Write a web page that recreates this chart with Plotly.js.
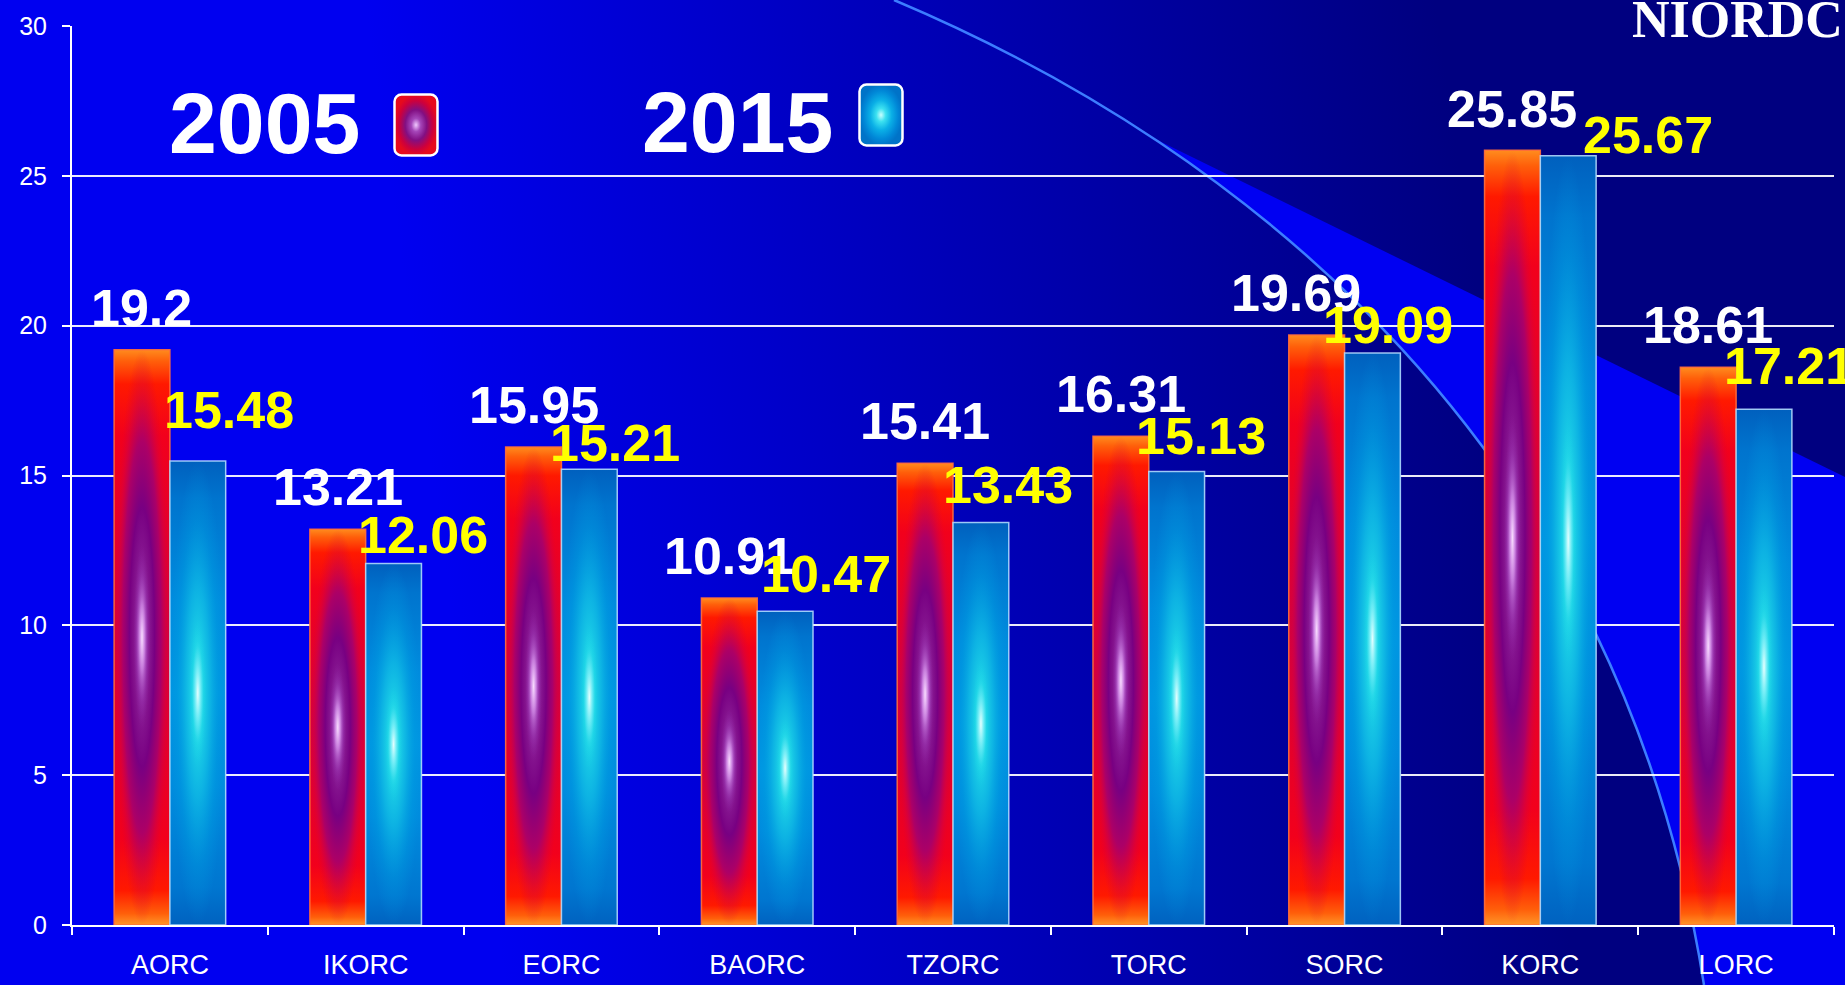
<!DOCTYPE html>
<html>
<head>
<meta charset="utf-8">
<script src="https://cdn.plot.ly/plotly-3.0.1.min.js"></script>
<style>
html,body{margin:0;padding:0;background:#0000f0;overflow:hidden}
#chart{width:1845px;height:985px}
</style>
</head>
<body>
<div id="chart"></div>
<script>
// ---------------- data ----------------
const categories = ['AORC','IKORC','EORC','BAORC','TZORC','TORC','SORC','KORC','LORC'];
const values2005 = [19.2, 13.21, 15.95, 10.91, 15.41, 16.31, 19.69, 25.85, 18.61];
const values2015 = [15.48, 12.06, 15.21, 10.47, 13.43, 15.13, 19.09, 25.67, 17.21];
const seriesNames = ['2005', '2015'];
const yTickVals = [0, 5, 10, 15, 20, 25, 30];
const brandText = 'NIORDC';

// ---------------- layout constants ----------------
const W = 1845, H = 985, ML = 72, MR = 11, MT = 26, MB = 60;
const PW = W - ML - MR, PH = H - MT - MB;
const BARGAP = 0.43;
const HALF = (1 - BARGAP) / 2;            // bar width in category units
const catPx = PW / categories.length;
const barPx = HALF * catPx;
const SANS = 'Liberation Sans, Arial, sans-serif';
const LABEL_SIZE = 52;
// hand placement of the value labels (pixel nudges, as in the original slide)
const whiteNudgeX = [0, 0, 0, 0, 0, 0, -21, 0, 0];
const whiteGap = [24, 24, 24, 24, 24, 24, 24, 23, 24];
const yellowNudgeX = [31, 29, 26, 41, 27, 24, 16, 80, 25];
const yellowGap = [33, 11, 8, 19, 20, 18, 10, 3, 25];

const px2paperX = p => (p - ML) / PW;
const px2paperY = p => (H - MB - p) / PH;

// ---------------- gradients ----------------
const redBase = [
  [0, 'rgb(255,150,40)'], [0.02, 'rgb(255,95,10)'], [0.06, 'rgb(255,25,0)'],
  [0.15, 'rgb(242,0,28)'], [0.5, 'rgb(212,0,62)'], [0.85, 'rgb(242,0,28)'],
  [0.94, 'rgb(255,25,0)'], [0.98, 'rgb(255,95,10)'], [1, 'rgb(255,140,30)']
];
const redCore = [
  [0, 'rgba(205,120,225,1)'], [0.14, 'rgba(145,40,155,1)'], [0.45, 'rgba(120,0,130,1)'],
  [0.68, 'rgba(160,0,115,0.85)'], [0.86, 'rgba(200,0,80,0.35)'], [1, 'rgba(220,0,50,0)']
];
const blueBase = [
  [0, 'rgb(0,98,192)'], [0.08, 'rgb(0,118,208)'], [0.3, 'rgb(0,140,222)'],
  [0.5, 'rgb(0,150,226)'], [0.7, 'rgb(0,140,222)'], [0.92, 'rgb(0,116,206)'], [1, 'rgb(0,96,190)']
];
const blueCore = [
  [0, 'rgba(130,242,248,1)'], [0.2, 'rgba(30,212,230,1)'], [0.45, 'rgba(15,185,228,0.85)'],
  [0.75, 'rgba(0,160,225,0.35)'], [1, 'rgba(0,150,225,0)']
];
const redGlow = [
  [0, 'rgba(250,225,255,0.95)'], [0.35, 'rgba(215,150,240,0.7)'],
  [0.7, 'rgba(170,80,210,0.25)'], [1, 'rgba(150,40,180,0)']
];
const blueGlow = [
  [0, 'rgba(235,255,255,0.95)'], [0.35, 'rgba(130,242,250,0.6)'],
  [0.7, 'rgba(40,222,235,0.25)'], [1, 'rgba(20,210,230,0)']
];

// ---------------- traces ----------------
const traces = [
  {type: 'bar', name: seriesNames[0], x: categories, y: values2005,
   marker: {color: 'rgb(212,0,62)'}, hoverinfo: 'x+y+name', showlegend: false},
  {type: 'bar', name: seriesNames[1], x: categories, y: values2015,
   marker: {color: 'rgb(0,140,222)'}, hoverinfo: 'x+y+name', showlegend: false}
];

function addShaded(vals, side, base, core, glow, edge) {
  vals.forEach((v, i) => {
    const x0 = side < 0 ? i - HALF : i;
    const x1 = x0 + HALF;
    const box = {x: [x0, x1, x1, x0, x0], y: [0, 0, v, v, 0]};
    traces.push({
      type: 'scatter', xaxis: 'x2', yaxis: 'y', mode: 'lines', x: box.x, y: box.y,
      fill: 'toself', fillgradient: {type: 'vertical', colorscale: base},
      line: {color: edge, width: 1.5}, hoverinfo: 'skip', showlegend: false
    });
    traces.push({
      type: 'scatter', xaxis: 'x2', yaxis: 'y', mode: 'none', x: box.x, y: box.y,
      fill: 'toself', fillgradient: {type: 'radial', colorscale: core},
      hoverinfo: 'skip', showlegend: false
    });
    const c = (x0 + x1) / 2, hw = HALF * 0.15;
    traces.push({
      type: 'scatter', xaxis: 'x2', yaxis: 'y', mode: 'none',
      x: [c - hw, c + hw, c + hw, c - hw, c - hw],
      y: [v * 0.34, v * 0.34, v * 0.66, v * 0.66, v * 0.34],
      fill: 'toself', fillgradient: {type: 'radial', colorscale: glow},
      hoverinfo: 'skip', showlegend: false
    });
  });
}
addShaded(values2005, -1, redBase, redCore, redGlow, 'rgba(255,110,60,0.9)');
addShaded(values2015, 1, blueBase, blueCore, blueGlow, 'rgba(185,222,255,0.85)');

// ---------------- annotations ----------------
const annotations = [];
values2005.forEach((v, i) => {
  annotations.push({
    x: categories[i], xref: 'x', y: v, yref: 'y', showarrow: false,
    text: String(v), xanchor: 'center', yanchor: 'middle',
    xshift: -barPx / 2 + whiteNudgeX[i], yshift: whiteGap[i] + 0.3465 * LABEL_SIZE,
    font: {family: SANS, size: LABEL_SIZE, color: '#ffffff', weight: 'bold'}
  });
});
values2015.forEach((v, i) => {
  annotations.push({
    x: categories[i], xref: 'x', y: v, yref: 'y', showarrow: false,
    text: String(v), xanchor: 'center', yanchor: 'middle',
    xshift: barPx / 2 + yellowNudgeX[i], yshift: yellowGap[i] + 0.3465 * LABEL_SIZE,
    font: {family: SANS, size: LABEL_SIZE, color: '#ffff00', weight: 'bold'}
  });
});
// legend words
annotations.push({
  xref: 'paper', yref: 'paper', x: px2paperX(264), y: px2paperY(153 - 0.3465 * 86),
  xanchor: 'center', yanchor: 'middle', showarrow: false, text: seriesNames[0],
  font: {family: SANS, size: 86, color: '#ffffff', weight: 'bold'}
});
annotations.push({
  xref: 'paper', yref: 'paper', x: px2paperX(737), y: px2paperY(152 - 0.3465 * 86),
  xanchor: 'center', yanchor: 'middle', showarrow: false, text: seriesNames[1],
  font: {family: SANS, size: 86, color: '#ffffff', weight: 'bold'}
});
// brand
annotations.push({
  xref: 'paper', yref: 'paper', x: px2paperX(1845), y: px2paperY(37 - 0.3375 * 52),
  xanchor: 'right', yanchor: 'middle', showarrow: false, text: brandText,
  font: {family: 'Liberation Serif, Times New Roman, serif', size: 52, color: '#ffffff', weight: 'bold'}
});

// ---------------- background & swatches (svg images) ----------------
const svgURI = s => 'data:image/svg+xml;charset=utf-8,' + encodeURIComponent(s);
const bgSVG = `<svg xmlns='http://www.w3.org/2000/svg' width='${W}' height='${H}' viewBox='0 0 ${W} ${H}' preserveAspectRatio='none'>
<defs>
<linearGradient id='g' gradientUnits='userSpaceOnUse' x1='450' y1='600' x2='1500' y2='450'>
<stop offset='0' stop-color='rgb(0,0,240)'/><stop offset='1' stop-color='rgb(0,0,128)'/>
</linearGradient>
<clipPath id='c'><path d='M894,0 C1250,150 1620,450 1704,985 L1845,985 L1845,0 Z'/></clipPath>
</defs>
<rect x='0' y='0' width='${W}' height='${H}' fill='url(#g)'/>
<path d='M900,14 L1845,477 L1845,985 L900,985 Z' fill='rgb(0,0,242)' clip-path='url(#c)'/>
<path d='M894,0 C1250,150 1620,450 1704,985' fill='none' stroke='rgb(60,125,255)' stroke-width='2.5'/>
</svg>`;
const swatchSVG = (stops) => `<svg xmlns='http://www.w3.org/2000/svg' width='46' height='64' viewBox='0 0 46 64'>
<defs><radialGradient id='r' cx='50%' cy='50%' r='50%'>${stops}</radialGradient></defs>
<rect x='1.5' y='1.5' width='43' height='61' rx='7' ry='7' fill='url(#r)' stroke='white' stroke-width='2.5'/>
</svg>`;
const redSw = swatchSVG("<stop offset='0' stop-color='rgb(240,200,255)'/><stop offset='0.22' stop-color='rgb(165,70,185)'/><stop offset='0.5' stop-color='rgb(130,15,130)'/><stop offset='0.8' stop-color='rgb(205,0,60)'/><stop offset='1' stop-color='rgb(230,10,30)'/>");
const blueSw = swatchSVG("<stop offset='0' stop-color='rgb(200,255,255)'/><stop offset='0.22' stop-color='rgb(60,225,240)'/><stop offset='0.5' stop-color='rgb(10,175,230)'/><stop offset='0.8' stop-color='rgb(0,135,215)'/><stop offset='1' stop-color='rgb(0,115,200)'/>");

const images = [
  {source: svgURI(bgSVG), xref: 'paper', yref: 'paper',
   x: px2paperX(0), y: px2paperY(0), sizex: W / PW, sizey: H / PH,
   xanchor: 'left', yanchor: 'top', sizing: 'stretch', layer: 'below'},
  {source: svgURI(redSw), xref: 'paper', yref: 'paper',
   x: px2paperX(393), y: px2paperY(93), sizex: 46 / PW, sizey: 64 / PH,
   xanchor: 'left', yanchor: 'top', sizing: 'stretch', layer: 'above'},
  {source: svgURI(blueSw), xref: 'paper', yref: 'paper',
   x: px2paperX(858), y: px2paperY(83), sizex: 46 / PW, sizey: 64 / PH,
   xanchor: 'left', yanchor: 'top', sizing: 'stretch', layer: 'above'}
];

// ---------------- layout ----------------
const layout = {
  width: W, height: H,
  margin: {l: ML, r: MR, t: MT, b: MB, autoexpand: false},
  paper_bgcolor: 'rgb(0,0,240)', plot_bgcolor: 'rgba(0,0,0,0)',
  barmode: 'group', bargap: BARGAP, bargroupgap: 0,
  showlegend: false,
  font: {family: SANS, color: '#ffffff'},
  xaxis: {
    type: 'category', categoryorder: 'array', categoryarray: categories,
    range: [-0.5, categories.length - 0.5],
    tickson: 'boundaries', ticks: 'outside', ticklen: 8, tickwidth: 2, tickcolor: '#ffffff',
    showgrid: false, showline: true, linecolor: '#ffffff', linewidth: 2,
    tickfont: {family: SANS, size: 27, color: '#ffffff'}, ticklabelstandoff: 15,
    fixedrange: true
  },
  xaxis2: {
    overlaying: 'x', anchor: 'y', range: [-0.5, categories.length - 0.5],
    visible: false, showgrid: false, zeroline: false, fixedrange: true
  },
  yaxis: {
    range: [0, 30], tickmode: 'array', tickvals: yTickVals,
    showgrid: true, gridcolor: 'rgba(255,255,255,0.92)', gridwidth: 1.5,
    zeroline: false, showline: true, linecolor: '#ffffff', linewidth: 2,
    ticks: 'outside', ticklen: 8, tickwidth: 1.5, tickcolor: '#ffffff',
    tickfont: {family: SANS, size: 25, color: '#ffffff'}, ticklabelstandoff: 10,
    fixedrange: true
  },
  annotations: annotations,
  images: images
};

Plotly.newPlot('chart', traces, layout, {displayModeBar: false, responsive: false});
</script>
</body>
</html>
